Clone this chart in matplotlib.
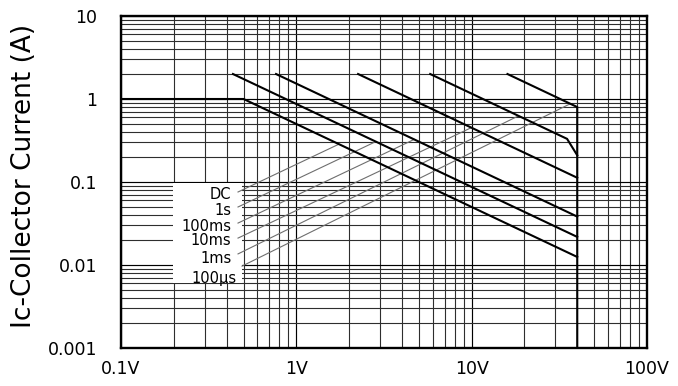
import numpy as np
import matplotlib
matplotlib.use("Agg")
import matplotlib.pyplot as plt
from matplotlib.patches import Rectangle

# Safe operating area curves (V, A), one per pulse width
labels = ["DC", "1s", "100ms", "10ms", "1ms", "100µs"]
curve_v = [[0.1, 0.5, 40], [0.435, 40], [0.766, 40], [2.25, 40], [5.8, 35, 40], [16, 40, 40]]
curve_i = [[1, 1, 0.0125], [2, 0.0218], [2, 0.0383], [2, 0.1125], [2, 0.331, 0.21], [2, 0.8, 0.001]]

# label text anchors and leader lines
label_v = [0.424, 0.424, 0.424, 0.426, 0.43, 0.459]
label_i = [0.0716, 0.0448, 0.0295, 0.0195, 0.0121, 0.00697]
leader_start_v = [0.465, 0.465, 0.465, 0.465, 0.465, 0.49]
leader_start_i = [0.0758, 0.050, 0.032, 0.0211, 0.0136, 0.0097]
leader_end_v = [1.75, 2.84, 4.7, 9.96, 18.5, 36.5]

xticks = [0.1, 1, 10, 100]
xtick_labels = ["0.1V", "1V", "10V", "100V"]
yticks = [0.001, 0.01, 0.1, 1, 10]
ytick_labels = ["0.001", "0.01", "0.1", "1", "10"]

fig = plt.figure(figsize=(6.78, 3.86), dpi=100)
ax = fig.add_axes([121 / 678, 1 - 348 / 386, 526 / 678, 332 / 386])
ax.set_xscale("log")
ax.set_yscale("log")
ax.set_xlim(0.1, 100)
ax.set_ylim(0.001, 10)

ax.set_axisbelow(True)
ax.grid(True, which="major", color="#000000", lw=0.85)
ax.grid(True, which="minor", color="#2e2e2e", lw=0.8)

# white panel behind the legend labels
ax.add_patch(Rectangle((0.198, 0.0061), 0.49 - 0.198, 0.097 - 0.0061,
                       facecolor="white", edgecolor="none", zorder=1))

for v, i in zip(curve_v, curve_i):
    ax.plot(v, i, color="black", lw=1.5, zorder=3, solid_joinstyle="miter")

for k in range(len(labels)):
    lv = np.log10(curve_v[k])
    li = np.log10(curve_i[k])
    end_i = 10 ** np.interp(np.log10(leader_end_v[k]), lv, li)
    ax.plot([leader_start_v[k], leader_end_v[k]], [leader_start_i[k], end_i],
            color="#6e6e6e", lw=0.8, zorder=2)
    ax.text(label_v[k], label_i[k], labels[k], ha="right", va="center",
            fontsize=10.5, zorder=4)

ax.set_xticks(xticks)
ax.set_xticklabels(xtick_labels)
ax.set_yticks(yticks)
ax.set_yticklabels(ytick_labels)
ax.tick_params(which="both", length=0, labelsize=12.5)
ax.tick_params(axis="x", pad=9)
ax.tick_params(axis="y", pad=17)

for s in ax.spines.values():
    s.set_linewidth(1.7)
    s.set_zorder(5)

fig.text(24 / 678, 1 - 176 / 386, "Ic-Collector Current (A)", rotation=90,
         ha="center", va="center", fontsize=19)

fig.savefig("out.png", dpi=100)
